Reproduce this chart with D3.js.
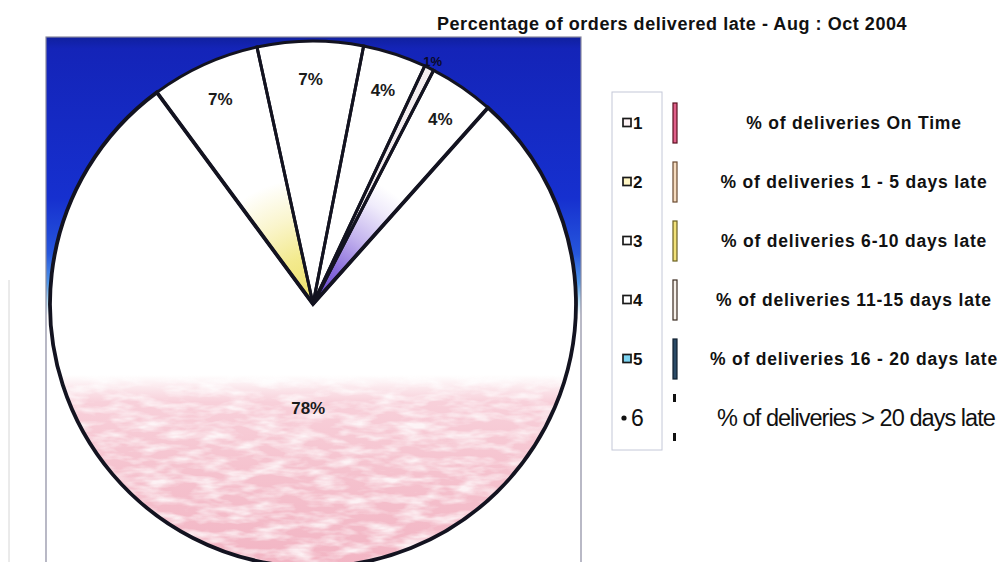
<!DOCTYPE html>
<html>
<head>
<meta charset="utf-8">
<script src="https://cdn.jsdelivr.net/npm/d3@7"></script>
<style>
  html, body { margin: 0; padding: 0; background: #ffffff; }
  svg { display: block; }
  text { font-family: "Liberation Sans", Arial, sans-serif; }
</style>
</head>
<body>
<svg id="chart" width="1000" height="562"></svg>
<script>
// ---- data ----
const title = "Percentage of orders delivered late - Aug : Oct 2004";
const legendKeys = ["1", "2", "3", "4", "5", "6"];
const categories = [
  "% of deliveries On Time",
  "% of deliveries 1 - 5 days late",
  "% of deliveries 6-10 days late",
  "% of deliveries 11-15 days late",
  "% of deliveries 16 - 20 days late",
  "% of deliveries > 20 days late"
];
const values = [78.3, 6.7, 6.5, 3.9, 0.6, 4.0];

// ---- styles ----
const barFill   = ["#e0608a", "#f6dcc0", "#f2e27a", "#f6f0ea", "#2a4a66", "none"];
const barStroke = ["#5a1020", "#6a4a30", "#6a6020", "#3a2a20", "#102030", "none"];
const keyFill   = ["#fdf2f4", "#fff6c4", "#ffffff", "#ffffff", "#7cd4f2", "none"];

const svg = d3.select("#chart");
const defs = svg.append("defs");

const cx = 313, cy = 304, R = 263;
const plot = {x: 46, y: 37, w: 535, h: 530};

// background gradient (blue plot area)
const bg = defs.append("linearGradient").attr("id", "bgGrad")
  .attr("gradientUnits", "userSpaceOnUse")
  .attr("x1", 0).attr("y1", plot.y).attr("x2", 0).attr("y2", 330);
[[0, "#10209e"], [0.04, "#1424b8"], [0.55, "#1630cf"], [0.74, "#2656dc"],
 [0.84, "#4f96e8"], [0.9, "#b5def6"], [0.95, "#ffffff"], [1, "#ffffff"]]
  .forEach(s => bg.append("stop").attr("offset", s[0]).attr("stop-color", s[1]));

// on-time slice: white top, pink bottom (coordinates local to pie centre)
const pink = defs.append("linearGradient").attr("id", "pinkGrad")
  .attr("gradientUnits", "userSpaceOnUse")
  .attr("x1", 0).attr("y1", 375 - cy).attr("x2", 0).attr("y2", 570 - cy);
[[0, "#ffffff"], [0.07, "#fbe6eb"], [0.14, "#f8d0da"], [0.5, "#f5c2ce"], [1, "#f2b4c3"]]
  .forEach(s => pink.append("stop").attr("offset", s[0]).attr("stop-color", s[1]));

const yel = defs.append("radialGradient").attr("id", "yelGrad")
  .attr("gradientUnits", "userSpaceOnUse")
  .attr("cx", 0).attr("cy", 0).attr("r", R);
[[0, "#ece068"], [0.18, "#f3ea8e"], [0.33, "#faf5cc"], [0.48, "#ffffff"], [1, "#ffffff"]]
  .forEach(s => yel.append("stop").attr("offset", s[0]).attr("stop-color", s[1]));

const pur = defs.append("radialGradient").attr("id", "purGrad")
  .attr("gradientUnits", "userSpaceOnUse")
  .attr("cx", 0).attr("cy", 0).attr("r", R);
[[0, "#5a3cc8"], [0.16, "#8a6edc"], [0.3, "#c4b4ee"], [0.44, "#f0ecfb"], [0.52, "#ffffff"], [1, "#ffffff"]]
  .forEach(s => pur.append("stop").attr("offset", s[0]).attr("stop-color", s[1]));

const sliceFill = ["url(#pinkGrad)", "url(#yelGrad)", "#ffffff", "#ffffff", "#f4eef0", "url(#purGrad)"];

// mottle filter
const f = defs.append("filter").attr("id", "mottle")
  .attr("x", 0).attr("y", 0).attr("width", 1).attr("height", 1);
f.append("feTurbulence").attr("type", "fractalNoise")
  .attr("baseFrequency", "0.035 0.11").attr("numOctaves", 3).attr("seed", 7).attr("result", "n");
f.append("feColorMatrix").attr("in", "n").attr("type", "matrix")
  .attr("values", "0 0 0 0 1  0 0 0 0 1  0 0 0 0 1  2.4 0 0 0 -0.95").attr("result", "w");
f.append("feComposite").attr("in", "w").attr("in2", "SourceGraphic").attr("operator", "in");

// title
svg.append("text")
  .attr("x", 437).attr("y", 30)
  .attr("font-size", 18).attr("font-weight", "bold")
  .attr("letter-spacing", 0.55)
  .attr("fill", "#111")
  .text(title);

// faint scan line at far left
svg.append("line").attr("x1", 9).attr("x2", 9).attr("y1", 280).attr("y2", 562)
  .attr("stroke", "#d6d6d6").attr("stroke-width", 1);

// plot area
svg.append("rect")
  .attr("x", plot.x).attr("y", plot.y).attr("width", plot.w).attr("height", plot.h)
  .attr("fill", "url(#bgGrad)")
  .attr("stroke", "#8a8aa0").attr("stroke-width", 1.2);

// pie
const a0 = 41.7 * Math.PI / 180;
const pie = d3.pie().sort(null).value(d => d).startAngle(a0).endAngle(a0 + 2 * Math.PI);
const arcs = pie(values);
const arc = d3.arc().innerRadius(0).outerRadius(R);

const g = svg.append("g").attr("transform", `translate(${cx},${cy})`);
g.selectAll("path.fill").data(arcs).join("path")
  .attr("class", "fill")
  .attr("d", arc)
  .attr("fill", (d, i) => sliceFill[i]);

// mottled overlay on the on-time slice
g.append("path")
  .attr("d", arc(arcs[0]))
  .attr("fill", "#fff")
  .attr("filter", "url(#mottle)")
  .attr("opacity", 0.8);

g.selectAll("path.edge").data(arcs).join("path")
  .attr("class", "edge")
  .attr("d", arc)
  .attr("fill", "none")
  .attr("stroke", "#131320")
  .attr("stroke-width", (d, i) => i === 0 ? 3.8 : 3)
  .attr("stroke-linejoin", "miter");

// labels
g.selectAll("text.lbl").data(arcs).join("text")
  .attr("class", "lbl")
  .each(function(d) {
    const a = (d.startAngle + d.endAngle) / 2;
    const k = d.value > 50 ? 0.395 : (d.value < 2 ? 1.03 : 0.855);
    d3.select(this)
      .attr("x", R * k * Math.sin(a))
      .attr("y", -R * k * Math.cos(a));
  })
  .attr("text-anchor", "middle")
  .attr("dy", "0.36em")
  .attr("font-size", d => d.value < 2 ? 13 : 17)
  .attr("font-weight", "bold")
  .attr("fill", d => d.value < 2 ? "#0a0a28" : "#1a1a1a")
  .text(d => Math.round(d.value) + "%");

// legend
const rowY = i => 123 + i * 59;
svg.append("rect")
  .attr("x", 612).attr("y", 92).attr("width", 50).attr("height", 358)
  .attr("fill", "#ffffff").attr("stroke", "#c4c8d8").attr("stroke-width", 1);

const lg = svg.append("g");
const rows = lg.selectAll("g.row").data(categories).join("g").attr("class", "row");

rows.each(function(c, i) {
  const r = d3.select(this);
  const y = rowY(i);
  if (i < 5) {
    r.append("rect").attr("x", 623).attr("y", y - 4.5).attr("width", 8).attr("height", 8)
      .attr("fill", keyFill[i]).attr("stroke", "#1a1a1a").attr("stroke-width", 1.7);
    r.append("text").attr("x", 633).attr("y", y + 6)
      .attr("font-size", 17).attr("font-weight", "bold").attr("fill", "#111")
      .text(legendKeys[i]);
    r.append("rect").attr("x", 673).attr("y", y - 20).attr("width", 4).attr("height", 40)
      .attr("fill", barFill[i]).attr("stroke", barStroke[i]).attr("stroke-width", 1.2);
    r.append("text").attr("x", 854).attr("y", y + 6)
      .attr("text-anchor", "middle")
      .attr("font-size", 17.5).attr("font-weight", "bold")
      .attr("letter-spacing", 0.8).attr("fill", "#111")
      .text(c);
  } else {
    r.append("circle").attr("cx", 624).attr("cy", y).attr("r", 2.6).attr("fill", "#111");
    r.append("text").attr("x", 631).attr("y", y + 8)
      .attr("font-size", 23).attr("fill", "#111")
      .text(legendKeys[i]);
    r.append("rect").attr("x", 673).attr("y", y - 24).attr("width", 3).attr("height", 8).attr("fill", "#111");
    r.append("rect").attr("x", 673).attr("y", y + 15).attr("width", 3).attr("height", 8).attr("fill", "#111");
    r.append("text").attr("x", 856).attr("y", y + 8)
      .attr("text-anchor", "middle")
      .attr("font-size", 23.5).attr("letter-spacing", -0.95).attr("fill", "#111")
      .text(c);
  }
});
</script>
</body>
</html>
